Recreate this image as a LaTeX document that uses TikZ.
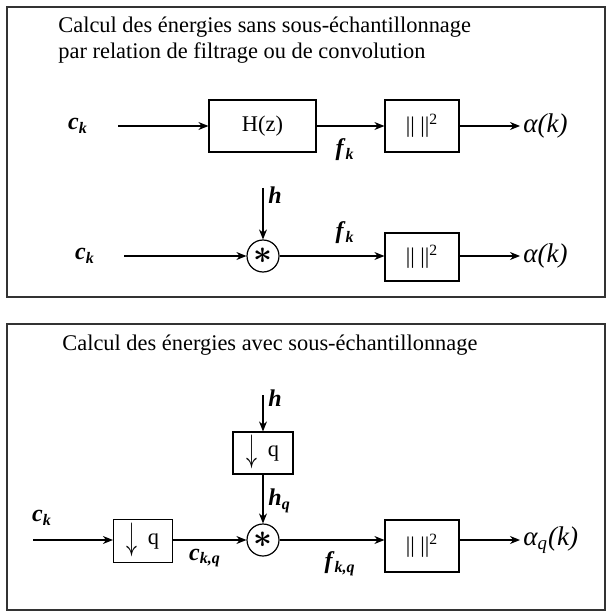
\documentclass[tikz,border=0pt]{standalone}
\usepackage{amsmath}
\usepackage{fontspec}
\setmainfont{Liberation Serif}
\usetikzlibrary{arrows.meta}
\newcommand{\sig}[2]{\textbf{\textit{#1}}\textsubscript{\textbf{\textit{#2}}}}
\newcommand{\normsq}{|| ||\textsuperscript{2}}
\newcommand{\downq}{\smash{\raisebox{-0.55ex}{\scalebox{1}[1.75]{$\downarrow$}}}\hspace{0.45em}q}
\newcommand{\convsym}{\scalebox{1.5}{$\boldsymbol{\ast}$}}

\begin{document}
\begin{tikzpicture}[x=0.5pt,y=-0.5pt,
  every node/.style={inner sep=1pt,font=\fontsize{11.2}{13}\selectfont},
  lbl/.style={font=\fontsize{12}{14}\selectfont},
  frame/.style={draw=black!80,line width=0.9pt},
  block/.style={draw,line width=0.6pt,minimum width=37pt,minimum height=26pt},
  conv/.style={draw,circle,line width=0.6pt,minimum size=16pt,inner sep=0pt},
  wire/.style={line width=0.6pt,-{Stealth[length=5pt,width=4pt]}}]
\useasboundingbox (0,0) rectangle (613,614);
\draw[frame] (7,7) rectangle (605,297);
\draw[frame] (7,324) rectangle (605,610);
% sans sous-echantillonnage
\node[anchor=west] (titleA) at (56,27) {Calcul des énergies sans sous-échantillonnage};
\node[anchor=west] (titleB) at (56,53) {par relation de filtrage ou de convolution};
\node[lbl] (cA) at (78,126) {\sig{c}{k}};
\coordinate (cAin) at (118,126);
\node[block,minimum width=53.5pt] (filt) at (262.5,126) {H(z)};
\node[block] (normA) at (422,126) {\normsq};
\coordinate (outA) at (520,126);
\node[lbl,anchor=west] (alphaA) at (521,126) {\fontsize{13.5}{15}\selectfont\textit{α(k)}};
\node[lbl] (fA) at (345,150) {\sig{f}{k}};
\draw[wire] (cAin) -- (filt);
\draw[wire] (filt) -- (normA);
\draw[wire] (normA) -- (outA);
% convolution
\node[lbl] (cB) at (85,256) {\sig{c}{k}};
\coordinate (cBin) at (124,256);
\node[conv] (convB) at (263,256) {\convsym};
\coordinate (hBin) at (263,188);
\node[lbl,anchor=west] (hB) at (266,195) {\textbf{\textit{h}}};
\node[lbl] (fB) at (345,233) {\sig{f}{k}};
\node[block,minimum height=24pt] (normB) at (422,257) {\normsq};
\coordinate (outB) at (520,256);
\node[lbl,anchor=west] (alphaB) at (521,256) {\fontsize{13.5}{15}\selectfont\textit{α(k)}};
\draw[wire] (cBin) -- (convB);
\draw[wire] (hBin) -- (convB);
\draw[wire] (convB) -- (convB -| normB.west);
\draw[wire] (normB.east |- outB) -- (outB);
% avec sous-echantillonnage
\node[anchor=west] (titleC) at (60,345) {Calcul des énergies avec sous-échantillonnage};
\coordinate (hCin) at (263,395);
\node[lbl,anchor=west] (hC) at (266,398) {\textbf{\textit{h}}};
\node[block,minimum width=30pt,minimum height=21pt] (decH) at (263,453) {\downq};
\node[lbl,anchor=west] (hq) at (266,501) {\sig{h}{q}};
\node[conv] (convC) at (263,540) {\convsym};
\node[lbl] (cC) at (42,518) {\sig{c}{k}};
\coordinate (cCin) at (33,540);
\node[block,minimum width=29.5pt,minimum height=21.5pt] (decC) at (143,541) {\downq};
\node[lbl] (ckq) at (205,558) {\sig{c}{k,q}};
\node[lbl] (fkq) at (340,564) {\sig{f}{k,q}};
\node[block] (normC) at (422,546) {\normsq};
\coordinate (outC) at (520,540);
\node[lbl,anchor=west] (alphaC) at (521,540) {\fontsize{13.5}{15}\selectfont\textit{α\textsubscript{q}(k)}};
\draw[wire] (hCin) -- (decH);
\draw[wire] (decH) -- (convC);
\draw[wire] (cCin) -- (cCin -| decC.west);
\draw[wire] (decC.east |- convC) -- (convC);
\draw[wire] (convC) -- (convC -| normC.west);
\draw[wire] (normC.east |- outC) -- (outC);
\end{tikzpicture}
\end{document}
